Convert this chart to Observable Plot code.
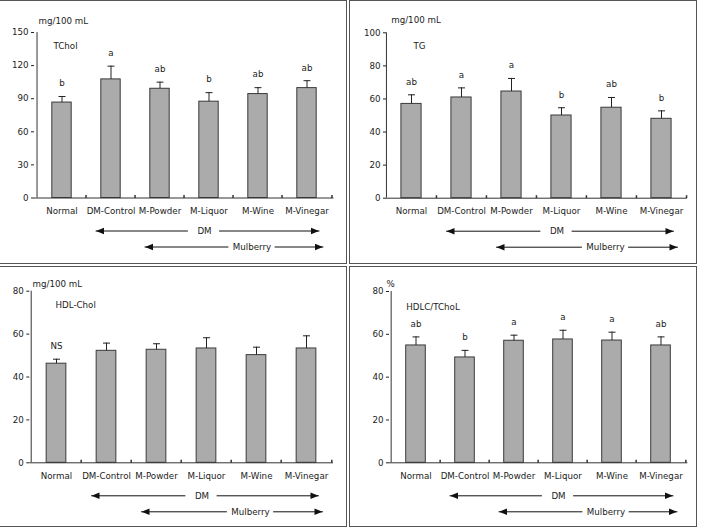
<!DOCTYPE html>
<html><head><meta charset="utf-8">
<script src="https://cdn.jsdelivr.net/npm/d3@7"></script>
<script src="https://cdn.jsdelivr.net/npm/@observablehq/plot@0.6"></script>
<style>
html,body{margin:0;padding:0;background:#fff;}
#page{position:relative;width:701px;height:527px;overflow:hidden;background:#fff;}
.box{position:absolute;box-sizing:border-box;border:1.5px solid #555;}
.panel{position:absolute;}
</style></head><body><div id="page"></div>
<script>
// ---- data ----
const categories = ["Normal", "DM-Control", "M-Powder", "M-Liquor", "M-Wine", "M-Vinegar"];

const tcholMean = [86.5, 107.5, 99.0, 87.3, 94.2, 99.6];
const tcholUpper = [92.0, 119.5, 105.0, 95.5, 100.0, 106.3];
const tcholLetters = ["b", "a", "ab", "b", "ab", "ab"];
const tcholTicks = [0, 30, 60, 90, 120, 150];

const tgMean = [57.0, 60.9, 64.5, 50.0, 54.7, 48.0];
const tgUpper = [62.5, 66.7, 72.4, 54.7, 60.9, 52.8];
const tgLetters = ["ab", "a", "a", "b", "ab", "b"];
const tgTicks = [0, 20, 40, 60, 80, 100];

const hdlMean = [46.2, 52.2, 52.7, 53.3, 50.2, 53.3];
const hdlUpper = [48.3, 55.8, 55.5, 58.3, 53.9, 59.2];
const hdlLetters = ["NS", "", "", "", "", ""];
const hdlTicks = [0, 20, 40, 60, 80];

const ratioMean = [54.8, 49.2, 57.0, 57.6, 57.1, 54.8];
const ratioUpper = [58.8, 52.5, 59.6, 61.9, 61.0, 58.8];
const ratioLetters = ["ab", "b", "a", "a", "a", "ab"];
const ratioTicks = [0, 20, 40, 60, 80];

const panelTitles = ["TChol", "TG", "HDL-Chol", "HDLC/TChoL"];
const panelUnits = ["mg/100 mL", "mg/100 mL", "mg/100 mL", "%"];

const arrowLabels = ["DM", "Mulberry"];
const arrowFrom = ["DM-Control", "M-Powder"];
const arrowTo = ["M-Vinegar", "M-Vinegar"];
const arrowLabelAt = ["M-Liquor", "M-Wine"];

// ---- layout (pixels) ----
const layout = [
  {left: 0, top: 0, width: 346, height: 262, ml: 34, mr: 12.5, mt: 32, mb: 64.5, unit: [4, -15], title: [19, 10.3]},
  {left: 350, top: 0, width: 346, height: 262, ml: 36, mr: 9.3, mt: 32.3, mb: 64.3, unit: [4.7, -15.6], title: [27, 10]},
  {left: 0, top: 267, width: 346, height: 258, ml: 29.3, mr: 13, mt: 23.7, mb: 62.7, unit: [2.7, -10.7], title: [25.7, 11]},
  {left: 350, top: 267, width: 346, height: 258, ml: 39, mr: 8.7, mt: 24, mb: 62.7, unit: [-3, -11], title: [16.7, 12.7]}
];
const boxes = [
  {left: -3, top: 0, width: 350, height: 263.5},
  {left: 349, top: 0, width: 348, height: 263.5},
  {left: -3, top: 266, width: 350, height: 260.5},
  {left: 349, top: 266, width: 348, height: 260.5}
];
// start/end: arrow tip offsets from band centres; gapL/gapR: line gap either side of label centre
const arrowStyle = [
  {dy: 33, start: 15, end: 12, textDx: -4.5, gapL: 17, gapR: 15},
  {dy: 49, start: 15, end: 16, textDx: -6, gapL: 24, gapR: 23}
];

const series = [
  {mean: tcholMean, upper: tcholUpper, letters: tcholLetters, ticks: tcholTicks},
  {mean: tgMean, upper: tgUpper, letters: tgLetters, ticks: tgTicks},
  {mean: hdlMean, upper: hdlUpper, letters: hdlLetters, ticks: hdlTicks},
  {mean: ratioMean, upper: ratioUpper, letters: ratioLetters, ticks: ratioTicks}
];

// custom symbols
const capSym = {draw(c) { c.moveTo(-3.5, 0); c.lineTo(3.5, 0); }};
const tickSym = {draw(c) { c.moveTo(0, 0); c.lineTo(0, -3); }};
const rightTri = {draw(c) { c.moveTo(0, 0); c.lineTo(-8, -3.2); c.lineTo(-8, 3.2); c.closePath(); }};
const leftTri = {draw(c) { c.moveTo(0, 0); c.lineTo(8, -3.2); c.lineTo(8, 3.2); c.closePath(); }};

const ink = "#222";
const page = document.getElementById("page");

boxes.forEach(b => {
  const d = document.createElement("div");
  d.className = "box";
  Object.assign(d.style, {left: b.left + "px", top: b.top + "px", width: b.width + "px", height: b.height + "px"});
  page.appendChild(d);
});

const arrows = arrowLabels.map((label, i) => ({label, from: arrowFrom[i], to: arrowTo[i], at: arrowLabelAt[i]}));

series.forEach((s, p) => {
  const L = layout[p];
  const ymax = s.ticks[s.ticks.length - 1];
  const bw = (L.width - L.ml - L.mr) / categories.length;
  const inset = (bw - 20.3) / 2;
  const rows = categories.map((cat, i) => ({cat, mean: s.mean[i], upper: s.upper[i], letter: s.letters[i]}));

  const arrowMarks = [];
  arrows.forEach((a, i) => {
    const st = arrowStyle[i];
    arrowMarks.push(
      Plot.arrow([a], {x1: "from", x2: "at", y1: 0, y2: 0, dy: st.dy, insetStart: -st.start, insetEnd: st.gapL - st.textDx, headLength: 0, stroke: "#111", strokeWidth: 1}),
      Plot.arrow([a], {x1: "at", x2: "to", y1: 0, y2: 0, dy: st.dy, insetStart: st.textDx + st.gapR, insetEnd: -st.end, headLength: 0, stroke: "#111", strokeWidth: 1}),
      Plot.dot([a], {x: "from", y: 0, dx: -st.start, dy: st.dy, symbol: leftTri, r: 4, fill: "#111", stroke: "none"}),
      Plot.dot([a], {x: "to", y: 0, dx: st.end, dy: st.dy, symbol: rightTri, r: 4, fill: "#111", stroke: "none"}),
      Plot.text([a], {x: "at", y: 0, dx: st.textDx, dy: st.dy, text: "label", fill: ink, fontSize: 8.7})
    );
  });

  const chart = Plot.plot({
    width: L.width,
    height: L.height,
    marginLeft: L.ml,
    marginRight: L.mr,
    marginTop: L.mt,
    marginBottom: L.mb,
    style: {fontFamily: '"DejaVu Sans", sans-serif', fontSize: "8.7px", color: ink, background: "transparent", overflow: "visible"},
    x: {domain: categories, padding: 0, tickSize: 0, tickPadding: 10, label: null},
    y: {domain: [0, ymax], ticks: s.ticks, tickSize: 3, tickPadding: 3, label: null},
    marks: [
      Plot.barY(rows, {x: "cat", y: "mean", fill: "#ababab", stroke: "#3a3a3a", strokeWidth: 1, insetLeft: inset, insetRight: inset}),
      Plot.ruleX(rows, {x: "cat", y1: "mean", y2: "upper", stroke: ink, strokeWidth: 1}),
      Plot.dot(rows, {x: "cat", y: "upper", symbol: capSym, r: 2, stroke: ink, fill: "none", strokeWidth: 1}),
      Plot.text(rows, {x: "cat", y: "upper", text: "letter", dy: -13, fill: ink, fontSize: 8.7}),
      Plot.ruleY([0], {stroke: "#333", strokeWidth: 1}),
      Plot.ruleX([categories[0]], {x: d => d, y1: 0, y2: ymax, dx: -bw / 2, stroke: "#333", strokeWidth: 1}),
      Plot.dot(categories.slice(1), {x: d => d, y: 0, dx: -bw / 2, symbol: tickSym, r: 2, stroke: "#333", fill: "none"}),
      Plot.dot(categories.slice(-1), {x: d => d, y: 0, dx: bw / 2, symbol: tickSym, r: 2, stroke: "#333", fill: "none"}),
      Plot.text([panelUnits[p]], {text: d => d, frameAnchor: "top-left", textAnchor: "start", dx: L.unit[0], dy: L.unit[1], fill: ink, fontSize: 8.7}),
      Plot.text([panelTitles[p]], {text: d => d, frameAnchor: "top-left", textAnchor: "start", dx: L.title[0], dy: L.title[1], fill: ink, fontSize: 8.7}),
      ...arrowMarks
    ]
  });
  const wrap = document.createElement("div");
  wrap.className = "panel";
  Object.assign(wrap.style, {left: L.left + "px", top: L.top + "px", width: L.width + "px", height: L.height + "px"});
  wrap.appendChild(chart);
  page.appendChild(wrap);
});
</script>
</body></html>
